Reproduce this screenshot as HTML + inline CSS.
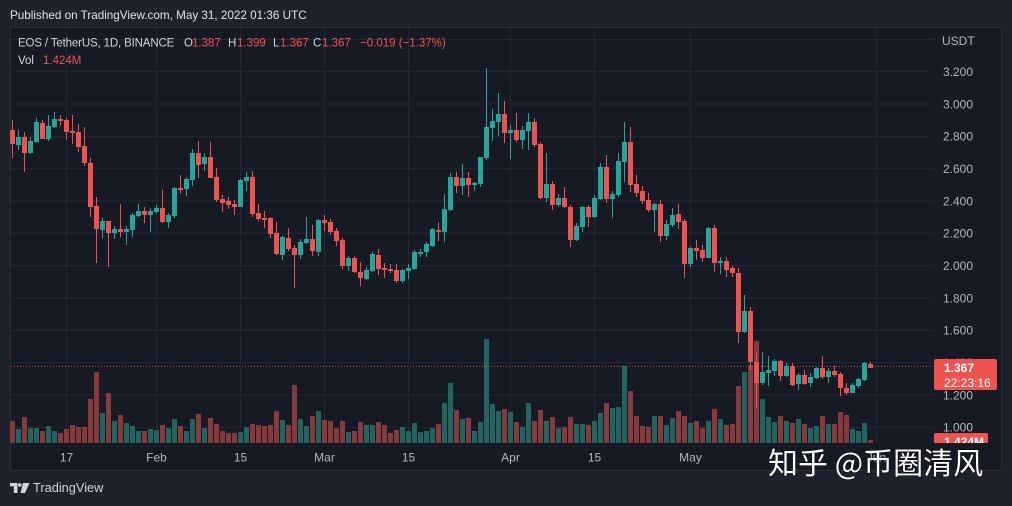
<!DOCTYPE html>
<html><head><meta charset="utf-8"><style>
html,body{margin:0;padding:0;background:#1e222d;width:1012px;height:506px;overflow:hidden}
svg{display:block;font-family:"Liberation Sans","Noto Sans CJK SC",sans-serif}
</style></head><body>
<svg width="1012" height="506" viewBox="0 0 1012 506" xmlns="http://www.w3.org/2000/svg">
<defs><clipPath id="vc"><rect x="930" y="430" width="70" height="13"/></clipPath></defs>
<rect x="0" y="0" width="1012" height="506" fill="#1e222d"/>
<rect x="10.5" y="27.5" width="991" height="443" fill="#161a25" stroke="#2a2e39"/>
<!-- grid -->
<g stroke="#242836" stroke-width="1">
<path d="M11 39.5H933M11 71.7H933M11 104H933M11 136.3H933M11 168.7H933M11 201H933M11 233.3H933M11 265.6H933M11 298H933M11 330.3H933M11 362.6H933M11 395H933M11 427.3H933"/>
<path d="M66.5 28V443M156.5 28V443M240.5 28V443M324.5 28V443M408.5 28V443M510.5 28V443M594.5 28V443M690.5 28V443M876.5 28V443"/>
</g>
<!-- volume -->
<path fill="none" stroke="#873a3c" stroke-width="5" d="M12.5 421V443M24.5 417V443M42.5 431V443M60.5 433V443M66.5 429V443M72.5 425V443M78.5 427V443M84.5 427V443M90.5 399V443M96.5 372V443M108.5 393V443M120.5 415V443M144.5 431V443M162.5 425V443M180.5 426V443M198.5 414V443M210.5 418V443M216.5 424V443M222.5 431V443M228.5 433V443M234.5 433V443M252.5 424V443M258.5 425V443M264.5 426V443M270.5 425V443M276.5 411V443M288.5 425V443M294.5 385V443M312.5 416V443M324.5 420V443M330.5 421V443M336.5 428V443M342.5 421V443M354.5 431V443M360.5 422V443M378.5 422V443M384.5 425V443M390.5 433V443M396.5 430V443M438.5 424V443M456.5 410V443M468.5 418V443M504.5 409V443M516.5 422V443M534.5 421V443M540.5 410V443M552.5 417V443M564.5 427V443M570.5 417V443M588.5 425V443M606.5 403V443M630.5 391V443M636.5 416V443M642.5 426V443M648.5 427V443M660.5 416V443M678.5 411V443M684.5 416V443M696.5 421V443M702.5 428V443M714.5 409V443M726.5 425V443M732.5 424V443M738.5 386V443M750.5 365V443M756.5 341V443M780.5 416V443M792.5 423V443M804.5 424V443M822.5 416V443M834.5 424V443M840.5 412V443M846.5 415V443M870.5 440V443"/>
<path fill="none" stroke="#22645f" stroke-width="5" d="M18.5 429V443M30.5 428V443M36.5 428V443M48.5 426V443M54.5 431V443M102.5 413V443M114.5 421V443M126.5 423V443M132.5 426V443M138.5 431V443M150.5 429V443M156.5 430V443M168.5 428V443M174.5 419V443M186.5 431V443M192.5 419V443M204.5 428V443M240.5 432V443M246.5 427V443M282.5 420V443M300.5 419V443M306.5 426V443M318.5 411V443M348.5 432V443M366.5 425V443M372.5 425V443M402.5 427V443M408.5 431V443M414.5 423V443M420.5 432V443M426.5 431V443M432.5 428V443M444.5 403V443M450.5 383V443M462.5 419V443M474.5 431V443M480.5 422V443M486.5 339V443M492.5 404V443M498.5 411V443M510.5 412V443M522.5 427V443M528.5 403V443M546.5 421V443M558.5 428V443M576.5 424V443M582.5 424V443M594.5 421V443M600.5 413V443M612.5 408V443M618.5 407V443M624.5 366V443M654.5 416V443M666.5 425V443M672.5 418V443M690.5 423V443M708.5 421V443M720.5 419V443M744.5 372V443M762.5 399V443M768.5 417V443M774.5 422V443M786.5 421V443M798.5 419V443M810.5 428V443M816.5 426V443M828.5 424V443M852.5 429V443M858.5 431V443M864.5 423V443"/>
<!-- last price dotted line -->
<path d="M11 366.5H933" stroke="#ef5350" stroke-width="1" stroke-dasharray="1 2" opacity="0.85"/>
<!-- candles red -->
<g fill="none" stroke="#ef5350">
<path stroke-width="1" d="M12.5 120V158M24.5 132V172M42.5 120V139M60.5 115V126M66.5 118V140M72.5 115V144M78.5 124V152M84.5 127V166M90.5 158V217M96.5 197V263M108.5 221V267M120.5 204V237M144.5 207V223M162.5 190V223M180.5 175V194M198.5 141V178M210.5 142V178M216.5 168V202M222.5 195V212M228.5 197V209M234.5 200V215M252.5 171V217M258.5 204V221M264.5 211V228M270.5 217V238M276.5 222V255M288.5 228V251M294.5 245V288M312.5 225V256M324.5 215V231M330.5 219V235M336.5 228V246M342.5 238V269M354.5 256V273M360.5 262V286M378.5 249V275M384.5 263V278M390.5 264V273M396.5 264V283M438.5 222V241M456.5 172V193M468.5 172V197M504.5 101V143M516.5 113V142M534.5 118V147M540.5 142V199M552.5 181V210M564.5 187V208M570.5 205V247M588.5 205V227M606.5 155V203M630.5 127V192M636.5 175V197M642.5 186V204M648.5 193V212M660.5 200V242M678.5 204V229M684.5 219V278M696.5 240V260M702.5 245V262M714.5 225V272M726.5 257V277M732.5 266V277M738.5 268V343M750.5 307V370M756.5 353V408M780.5 360V381M792.5 363V386M804.5 370V385M822.5 356V379M834.5 366V377M840.5 372V396M846.5 383V395M870.5 362V368"/>
<path stroke-width="5" d="M12.5 130V144M24.5 137V153M42.5 123V139M60.5 119V121M66.5 120V132M72.5 131V133M78.5 132V147M84.5 146V163M90.5 163V207M96.5 206V229M108.5 221V233M120.5 229V232M144.5 211V215M162.5 208V222M180.5 188V190M198.5 153V165M210.5 157V178M216.5 177V200M222.5 199V203M228.5 201V205M234.5 204V207M252.5 177V214M258.5 213V219M264.5 218V220M270.5 218V234M276.5 233V254M288.5 238V249M294.5 248V255M312.5 239V251M324.5 220V223M330.5 222V232M336.5 231V241M342.5 240V266M354.5 258V272M360.5 272V278M378.5 255V269M384.5 268V270M390.5 269V271M396.5 270V281M438.5 230V232M456.5 177V186M468.5 178V185M504.5 114V133M516.5 130V140M534.5 122V145M540.5 144V198M552.5 184V205M564.5 198V207M570.5 207V240M588.5 207V217M606.5 167V199M630.5 142V185M636.5 184V193M642.5 191V201M648.5 200V210M660.5 204V236M678.5 214V222M684.5 221V264M696.5 248V251M702.5 250V258M714.5 228V263M726.5 261V270M732.5 268V273M738.5 273V332M750.5 311V362M756.5 362V383M780.5 361V376M792.5 366V385M804.5 375V384M822.5 368V377M834.5 371V375M840.5 374V388M846.5 388V393M870.5 364V368"/>
</g>
<!-- candles green -->
<g fill="none" stroke="#26a69a">
<path stroke-width="1" d="M18.5 130V150M30.5 137V154M36.5 118V143M48.5 115V141M54.5 112V128M102.5 218V238M114.5 226V239M126.5 226V245M132.5 213V237M138.5 204V217M150.5 208V232M156.5 205V213M168.5 213V228M174.5 187V218M186.5 177V196M192.5 149V186M204.5 153V171M240.5 179V207M246.5 172V191M282.5 236V260M300.5 239V259M306.5 217V244M318.5 219V256M348.5 256V271M366.5 267V280M372.5 252V272M402.5 269V283M408.5 264V279M414.5 250V270M420.5 249V257M426.5 242V257M432.5 228V247M444.5 194V242M450.5 173V211M462.5 164V195M474.5 182V191M480.5 157V187M486.5 68V160M492.5 109V141M498.5 93V136M510.5 125V159M522.5 126V149M528.5 113V150M546.5 153V202M558.5 194V207M576.5 223V241M582.5 206V232M594.5 195V218M600.5 163V200M612.5 191V218M618.5 153V197M624.5 122V182M654.5 203V232M666.5 220V240M672.5 208V227M690.5 247V267M708.5 227V258M720.5 257V274M744.5 295V333M762.5 352V385M768.5 356V386M774.5 359V376M786.5 363V377M798.5 373V390M810.5 373V387M816.5 367V379M828.5 368V383M852.5 383V393M858.5 378V388M864.5 362V381"/>
<path stroke-width="5" d="M18.5 137V145M30.5 141V153M36.5 122V142M48.5 126V139M54.5 119V127M102.5 221V230M114.5 229V233M126.5 229V232M132.5 215V230M138.5 211V216M150.5 211V215M156.5 208V212M168.5 215V222M174.5 188V216M186.5 179V189M192.5 153V180M204.5 157V164M240.5 180V207M246.5 177V181M282.5 237V255M300.5 242V255M306.5 239V243M318.5 220V252M348.5 258V266M366.5 270V279M372.5 254V271M402.5 270V281M408.5 268V271M414.5 252V269M420.5 252V254M426.5 244V252M432.5 229V246M444.5 209V232M450.5 177V210M462.5 178V186M474.5 183V185M480.5 157V184M486.5 127V158M492.5 121V128M498.5 114V122M510.5 130V133M522.5 130V140M528.5 122V131M546.5 184V198M558.5 198V205M576.5 226V240M582.5 207V227M594.5 198V217M600.5 167V199M612.5 194V199M618.5 161V195M624.5 142V162M654.5 204V210M666.5 224V236M672.5 215V225M690.5 248V264M708.5 228V258M720.5 261V263M744.5 311V332M762.5 372V383M768.5 370V373M774.5 361V371M786.5 366V376M798.5 375V384M810.5 377V383M816.5 368V378M828.5 371V377M852.5 385V393M858.5 379V386M864.5 363V380"/>
</g>
<!-- header -->
<text x="10" y="19" font-size="11.7" fill="#e0e3eb">Published on TradingView.com, May 31, 2022 01:36 UTC</text>
<g font-size="11.5">
<text x="18" y="46.5" fill="#d1d4dc" letter-spacing="-0.15">EOS / TetherUS, 1D, BINANCE</text>
<text x="184" y="46.5" fill="#d1d4dc">O</text><text x="192" y="46.5" fill="#ef5350">1.387</text>
<text x="228" y="46.5" fill="#d1d4dc">H</text><text x="237" y="46.5" fill="#ef5350">1.399</text>
<text x="273" y="46.5" fill="#d1d4dc">L</text><text x="280" y="46.5" fill="#ef5350">1.367</text>
<text x="313" y="46.5" fill="#d1d4dc">C</text><text x="322" y="46.5" fill="#ef5350">1.367</text>
<text x="360" y="46.5" fill="#ef5350">−0.019 (−1.37%)</text>
<text x="18" y="64" fill="#d1d4dc">Vol</text><text x="43" y="64" fill="#ef5350">1.424M</text>
</g>
<!-- price axis -->
<g font-size="12" fill="#b2b5be">
<text x="942" y="45">USDT</text>
<text x="943" y="76">3.200</text>
<text x="943" y="108.3">3.000</text>
<text x="943" y="140.6">2.800</text>
<text x="943" y="173">2.600</text>
<text x="943" y="205.3">2.400</text>
<text x="943" y="237.6">2.200</text>
<text x="943" y="269.9">2.000</text>
<text x="943" y="302.3">1.800</text>
<text x="943" y="334.6">1.600</text>
<text x="943" y="366.9">1.400</text>
<text x="943" y="399.3">1.200</text>
<text x="943" y="431.6">1.000</text>
</g>
<rect x="934" y="359" width="63" height="31" rx="2" fill="#ef5350"/>
<text x="944" y="372" font-size="12" font-weight="bold" fill="#ffffff">1.367</text>
<text x="944" y="387" font-size="12" fill="#ffffff">22:23:16</text>
<g clip-path="url(#vc)">
<rect x="934" y="433" width="54" height="14" rx="2" fill="#ef5350"/>
<text x="944" y="446" font-size="12" font-weight="bold" fill="#ffffff">1.424M</text>
</g>
<!-- time axis -->
<g font-size="12" fill="#b2b5be" text-anchor="middle">
<text x="66.5" y="461.5">17</text>
<text x="156.5" y="461.5">Feb</text>
<text x="240.5" y="461.5">15</text>
<text x="324.5" y="461.5">Mar</text>
<text x="408.5" y="461.5">15</text>
<text x="510.5" y="461.5">Apr</text>
<text x="594.5" y="461.5">15</text>
<text x="690.5" y="461.5">May</text>
<text x="876.5" y="461.5">Jun</text>
</g>
<!-- watermark -->
<text x="768" y="474" font-size="30" fill="#ffffff" stroke="rgba(0,0,0,0.45)" stroke-width="1.5" paint-order="stroke" style="font-family:'Noto Sans CJK SC','WenQuanYi Zen Hei',sans-serif">知乎 @币圈清风</text>
<!-- logo -->
<g fill="#d1d4dc">
<path d="M10 483H17.5V493H13.8V486.3H10Z"/>
<circle cx="19.8" cy="485" r="1.8"/>
<path d="M23 483H29.5L25 493H20.5Z"/>
</g>
<text x="33" y="492" font-size="12.8" fill="#d1d4dc">TradingView</text>
</svg>
</body></html>
